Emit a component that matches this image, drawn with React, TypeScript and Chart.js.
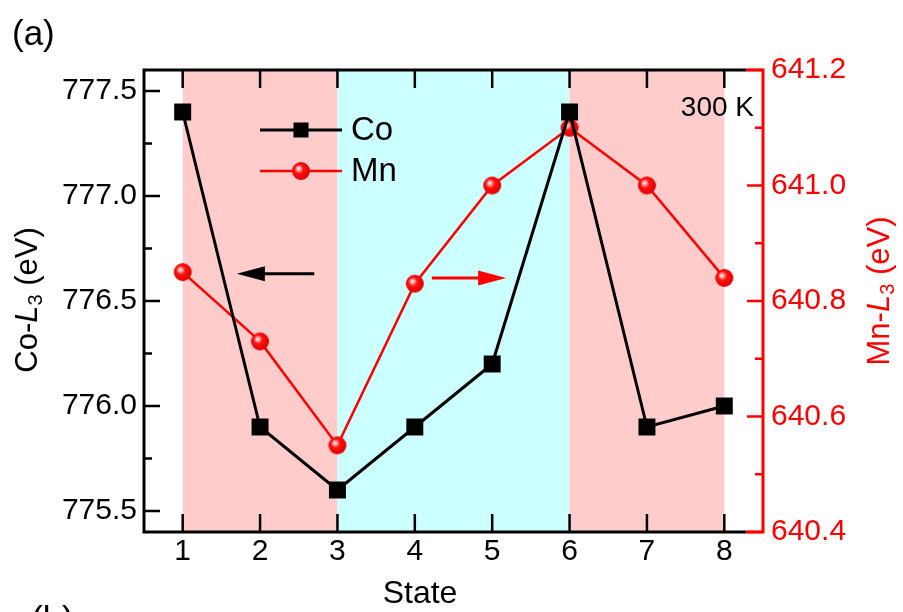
import React, { useEffect, useRef } from 'react';
import { Chart, registerables } from 'chart.js';

Chart.register(...registerables);

const FONT = '"Liberation Sans", Arial, sans-serif';

const states = [1, 2, 3, 4, 5, 6, 7, 8];
const coValues = [777.4, 775.9, 775.6, 775.9, 776.2, 777.4, 775.9, 776.0];
const mnValues = [640.85, 640.73, 640.55, 640.83, 641.0, 641.1, 641.0, 640.84];

const xTicks = [1, 2, 3, 4, 5, 6, 7, 8];
const coTicks = [775.5, 776.0, 776.5, 777.0, 777.5];
const coMinorTicks = [775.75, 776.25, 776.75, 777.25];
const mnTicks = [640.4, 640.6, 640.8, 641.0, 641.2];
const mnMinorTicks = [640.5, 640.7, 640.9, 641.1];

const PINK = 'rgb(255,204,204)';
const CYAN = 'rgb(204,255,255)';
const regionFrom = [1, 3, 6];
const regionTo = [3, 6, 8];
const regionColors = [PINK, CYAN, PINK];

const coArrow = { from: 2.7, to: 1.7, y: 776.63 };
const mnArrow = { from: 4.22, to: 5.18, y: 640.84 };

function makeBall(r: number): HTMLCanvasElement {
  const c = document.createElement('canvas');
  const s = Math.ceil(2 * r + 2);
  c.width = s;
  c.height = s;
  const g = c.getContext('2d')!;
  const cx = s / 2;
  const cy = s / 2;
  const grad = g.createRadialGradient(cx - r * 0.3, cy - r * 0.3, 0, cx - r * 0.1, cy - r * 0.1, r * 1.1);
  grad.addColorStop(0, '#ffffff');
  grad.addColorStop(0.18, '#ffb0b0');
  grad.addColorStop(0.45, '#ff1010');
  grad.addColorStop(1, '#e00000');
  g.fillStyle = grad;
  g.beginPath();
  g.arc(cx, cy, r, 0, Math.PI * 2);
  g.fill();
  return c;
}

type Part = { t: string; italic?: boolean; sub?: boolean };

function drawRich(ctx: CanvasRenderingContext2D, parts: Part[], cx: number, cy: number, size: number, color: string) {
  ctx.save();
  ctx.translate(cx, cy);
  ctx.rotate(-Math.PI / 2);
  ctx.fillStyle = color;
  ctx.textBaseline = 'middle';
  ctx.textAlign = 'left';
  const fontFor = (p: Part) => `${p.italic ? 'italic ' : ''}${p.sub ? Math.round(size * 0.65) : size}px ${FONT}`;
  let total = 0;
  parts.forEach((p) => {
    ctx.font = fontFor(p);
    total += ctx.measureText(p.t).width;
  });
  let x = -total / 2;
  parts.forEach((p) => {
    ctx.font = fontFor(p);
    ctx.fillText(p.t, x, p.sub ? size * 0.28 : 0);
    x += ctx.measureText(p.t).width;
  });
  ctx.restore();
}

function drawArrow(ctx: CanvasRenderingContext2D, x0: number, x1: number, y: number, color: string) {
  const dir = Math.sign(x1 - x0);
  const head = 28;
  const half = 7.5;
  ctx.save();
  ctx.strokeStyle = color;
  ctx.fillStyle = color;
  ctx.lineWidth = 3;
  ctx.beginPath();
  ctx.moveTo(x0, y);
  ctx.lineTo(x1 - dir * head * 0.8, y);
  ctx.stroke();
  ctx.beginPath();
  ctx.moveTo(x1, y);
  ctx.lineTo(x1 - dir * head, y - half);
  ctx.lineTo(x1 - dir * head, y + half);
  ctx.closePath();
  ctx.fill();
  ctx.restore();
}

export default function App() {
  const ref = useRef<HTMLCanvasElement>(null);

  useEffect(() => {
    if (!ref.current) return;
    const ball = makeBall(9);

    const deco = {
      id: 'deco',
      beforeDatasetsDraw(chart: any) {
        const { ctx, chartArea: a, scales } = chart;
        const xs = scales.x;
        ctx.save();
        regionFrom.forEach((f, i) => {
          const x0 = xs.getPixelForValue(f);
          const x1 = xs.getPixelForValue(regionTo[i]);
          ctx.fillStyle = regionColors[i];
          ctx.fillRect(x0, a.top, x1 - x0, a.bottom - a.top);
        });
        ctx.restore();
      },
      afterDatasetsDraw(chart: any) {
        const { ctx, chartArea: a, scales } = chart;
        const xs = scales.x;
        const ys = scales.y;
        const y1 = scales.y1;
        ctx.save();
        ctx.lineCap = 'butt';
        // frame
        ctx.lineWidth = 3;
        ctx.strokeStyle = '#000';
        ctx.beginPath();
        ctx.moveTo(a.left, a.top - 1.5);
        ctx.lineTo(a.left, a.bottom + 1.5);
        ctx.moveTo(a.left - 1.5, a.top);
        ctx.lineTo(a.right - 17, a.top);
        ctx.moveTo(a.left - 1.5, a.bottom);
        ctx.lineTo(a.right - 17, a.bottom);
        ctx.stroke();
        ctx.strokeStyle = '#ff0000';
        ctx.beginPath();
        ctx.moveTo(a.right, a.top - 1.5);
        ctx.lineTo(a.right, a.bottom + 1.5);
        ctx.moveTo(a.right - 17, a.top);
        ctx.lineTo(a.right + 1.5, a.top);
        ctx.moveTo(a.right - 17, a.bottom);
        ctx.lineTo(a.right + 1.5, a.bottom);
        ctx.stroke();
        // ticks
        ctx.lineWidth = 2.5;
        ctx.strokeStyle = '#000';
        ctx.beginPath();
        xTicks.forEach((v) => {
          const px = xs.getPixelForValue(v);
          ctx.moveTo(px, a.top);
          ctx.lineTo(px, a.top + 18);
          ctx.moveTo(px, a.bottom);
          ctx.lineTo(px, a.bottom - 18);
        });
        coTicks.forEach((v) => {
          const py = ys.getPixelForValue(v);
          ctx.moveTo(a.left, py);
          ctx.lineTo(a.left + 16, py);
        });
        coMinorTicks.forEach((v) => {
          const py = ys.getPixelForValue(v);
          ctx.moveTo(a.left, py);
          ctx.lineTo(a.left + 8, py);
        });
        ctx.stroke();
        ctx.strokeStyle = '#ff0000';
        ctx.beginPath();
        mnTicks.forEach((v) => {
          const py = y1.getPixelForValue(v);
          ctx.moveTo(a.right, py);
          ctx.lineTo(a.right - 16, py);
        });
        mnMinorTicks.forEach((v) => {
          const py = y1.getPixelForValue(v);
          ctx.moveTo(a.right, py);
          ctx.lineTo(a.right - 8, py);
        });
        ctx.stroke();

        // arrows
        drawArrow(ctx, xs.getPixelForValue(coArrow.from), xs.getPixelForValue(coArrow.to), ys.getPixelForValue(coArrow.y), '#000');
        drawArrow(ctx, xs.getPixelForValue(mnArrow.from), xs.getPixelForValue(mnArrow.to), y1.getPixelForValue(mnArrow.y), '#ff0000');

        // legend
        const lx0 = 260, lx1 = 342, lmx = 301;
        ctx.lineWidth = 3;
        ctx.strokeStyle = '#000';
        ctx.beginPath();
        ctx.moveTo(lx0, 130);
        ctx.lineTo(lx1, 130);
        ctx.stroke();
        ctx.fillStyle = '#000';
        ctx.fillRect(lmx - 7.5, 130 - 7.5, 15, 15);
        ctx.lineWidth = 2.5;
        ctx.strokeStyle = '#ff0000';
        ctx.beginPath();
        ctx.moveTo(lx0, 171);
        ctx.lineTo(lx1, 171);
        ctx.stroke();
        ctx.drawImage(ball, lmx - ball.width / 2, 171 - ball.height / 2);
        ctx.fillStyle = '#000';
        ctx.font = `33px ${FONT}`;
        ctx.textAlign = 'left';
        ctx.textBaseline = 'middle';
        ctx.fillText('Co', 351, 131);
        ctx.fillText('Mn', 351, 172);

        // 300 K
        ctx.font = `28px ${FONT}`;
        ctx.textAlign = 'right';
        ctx.fillText('300 K', 754, 108);

        // panel labels
        ctx.font = `35px ${FONT}`;
        ctx.textAlign = 'left';
        ctx.fillText('(a)', 12, 35);
        ctx.textBaseline = 'top';
        ctx.fillText('(b)', 31, 604);

        // x title
        ctx.font = `32px ${FONT}`;
        ctx.textAlign = 'center';
        ctx.textBaseline = 'middle';
        ctx.fillText('State', 420, 594);

        // y titles
        drawRich(ctx, [{ t: 'Co-' }, { t: 'L', italic: true }, { t: '3', sub: true }, { t: ' (eV)' }], 28, 300, 31, '#000');
        drawRich(ctx, [{ t: 'Mn-' }, { t: 'L', italic: true }, { t: '3', sub: true }, { t: ' (eV)' }], 880, 291, 31, '#ff0000');
        ctx.restore();
      },
    };

    const chart = new Chart(ref.current, {
      type: 'line',
      data: {
        datasets: [
          {
            label: 'Co',
            data: states.map((s, i) => ({ x: s, y: coValues[i] })),
            yAxisID: 'y',
            borderColor: '#000',
            backgroundColor: '#000',
            borderWidth: 3,
            pointStyle: 'rect',
            pointRadius: 12,
            pointBorderWidth: 0,
            pointBackgroundColor: '#000',
            tension: 0,
          },
          {
            label: 'Mn',
            data: states.map((s, i) => ({ x: s, y: mnValues[i] })),
            yAxisID: 'y1',
            borderColor: '#ff0000',
            backgroundColor: '#ff0000',
            borderWidth: 2.5,
            pointStyle: ball as any,
            pointRadius: 9,
            tension: 0,
          },
        ],
      },
      options: {
        animation: false,
        responsive: false,
        events: [],
        layout: { padding: { top: 70, left: 0, right: 0, bottom: 0 } },
        plugins: { legend: { display: false }, tooltip: { enabled: false } },
        scales: {
          x: {
            type: 'linear',
            min: 0.5,
            max: 8.5,
            grid: { display: false, drawTicks: false },
            border: { display: false },
            afterBuildTicks: (s: any) => {
              s.ticks = xTicks.map((v) => ({ value: v }));
            },
            afterFit: (s: any) => {
              s.height = 80;
            },
            ticks: {
              color: '#000',
              padding: 2,
              font: { family: FONT, size: 30 },
              callback: (v: any) => String(v),
            },
          },
          y: {
            type: 'linear',
            position: 'left',
            min: 775.4,
            max: 777.6,
            grid: { display: false, drawTicks: false },
            border: { display: false },
            afterBuildTicks: (s: any) => {
              s.ticks = coTicks.map((v) => ({ value: v }));
            },
            afterFit: (s: any) => {
              s.width = 144;
            },
            ticks: {
              color: '#000',
              padding: 7,
              font: { family: FONT, size: 30 },
              callback: (v: any) => Number(v).toFixed(1),
            },
          },
          y1: {
            type: 'linear',
            position: 'right',
            min: 640.4,
            max: 641.2,
            grid: { display: false, drawTicks: false },
            border: { display: false },
            afterBuildTicks: (s: any) => {
              s.ticks = mnTicks.map((v) => ({ value: v }));
            },
            afterFit: (s: any) => {
              s.width = 140;
            },
            ticks: {
              color: '#ff0000',
              padding: 8,
              font: { family: FONT, size: 30 },
              callback: (v: any) => Number(v).toFixed(1),
            },
          },
        },
      },
      plugins: [deco],
    });
    return () => chart.destroy();
  }, []);

  return (
    <div style={{ position: 'fixed', left: 0, top: 0, width: 903, height: 612, background: '#fff' }}>
      <canvas ref={ref} width={903} height={612} style={{ width: 903, height: 612, display: 'block' }} />
    </div>
  );
}
